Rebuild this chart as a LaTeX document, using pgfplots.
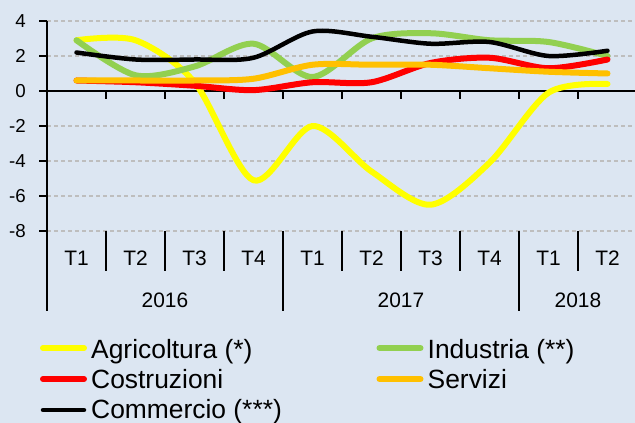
\documentclass[border=0pt]{standalone}
\usepackage{fontspec}
\setmainfont{Liberation Sans}
\usepackage{pgfplots}
\pgfplotsset{compat=1.18}

\definecolor{bgblue}{RGB}{220,230,242}
\definecolor{agri}{RGB}{255,255,0}
\definecolor{indu}{RGB}{146,208,80}
\definecolor{costr}{RGB}{255,0,0}
\definecolor{serv}{RGB}{255,192,0}
\definecolor{gridgray}{RGB}{190,190,190}

\newcommand{\tickfont}{\fontsize{21}{24}\selectfont}
\newcommand{\yfont}{\fontsize{18.8}{22}\selectfont}
\newcommand{\legfont}{\fontsize{26.5}{30}\selectfont}

\begin{document}
\begin{tikzpicture}
\fill[bgblue] (0bp,0bp) rectangle (635bp,423bp);
\useasboundingbox (0bp,0bp) rectangle (635bp,423bp);

\begin{axis}[
  at={(47bp,192bp)}, anchor=south west,
  scale only axis, width=590bp, height=210bp,
  xmin=0, xmax=10, ymin=-8, ymax=4,
  clip=false,
  axis x line=none,
  axis y line*=left,
  y axis line style={line width=1.3bp, -},
  ytick={-8,-6,-4,-2,0,2,4},
  yticklabels={-8,-6,-4,-2,0,2,4},
  yticklabel style={font=\yfont, anchor=east, inner sep=0pt, xshift=-13bp},
  tick align=outside,
  major tick length=8bp,
  ytick style={line width=1.3bp, black},
  ymajorgrids,
  grid style={gridgray, line width=1.2bp, dash pattern=on 4bp off 3bp},
  every axis plot/.append style={smooth, tension=0.5, line cap=round, line join=round, line width=6bp},
]
% zero line and its ticks
\draw[line width=1.3bp] (axis cs:0,0) -- (axis cs:10,0);
\pgfplotsinvokeforeach{1,...,9}{\draw[line width=1.3bp] (axis cs:#1,0) -- ++(0bp,-8bp);}

% Agricoltura (*)
\addplot[agri] coordinates {
  (0.5,2.9) (1.5,2.9) (2.5,0.5) (3.5,-5.1) (4.5,-2.0)
  (5.5,-4.6) (6.5,-6.5) (7.5,-4.1) (8.5,-0.1) (9.5,0.4)
};
% Industria (**)
\addplot[indu] coordinates {
  (0.5,2.9) (1.5,0.9) (2.5,1.4) (3.5,2.7) (4.5,0.8)
  (5.5,3.0) (6.5,3.3) (7.5,2.9) (8.5,2.8) (9.5,2.0)
};
% Costruzioni
\addplot[costr] coordinates {
  (0.5,0.6) (1.5,0.5) (2.5,0.3) (3.5,0.05) (4.5,0.5)
  (5.5,0.5) (6.5,1.6) (7.5,1.9) (8.5,1.3) (9.5,1.8)
};
% Servizi
\addplot[serv] coordinates {
  (0.5,0.6) (1.5,0.6) (2.5,0.6) (3.5,0.7) (4.5,1.5)
  (5.5,1.5) (6.5,1.5) (7.5,1.3) (8.5,1.1) (9.5,1.0)
};
% Commercio (***)
\addplot[black, line width=4.5bp] coordinates {
  (0.5,2.2) (1.5,1.8) (2.5,1.8) (3.5,1.9) (4.5,3.4)
  (5.5,3.1) (6.5,2.7) (7.5,2.8) (8.5,2.0) (9.5,2.3)
};
\end{axis}

\begin{scope}[x=1bp, y=1bp]
% category axis below the plot
\foreach \i in {1,2,3,5,6,7,9}
  \draw[line width=1.3bp] (47+59*\i,192) -- (47+59*\i,152);
\foreach \i in {0,4,8}
  \draw[line width=1.3bp] (47+59*\i,192) -- (47+59*\i,112);
\foreach \i/\t in {0/T1,1/T2,2/T3,3/T4,4/T1,5/T2,6/T3,7/T4,8/T1,9/T2}
  \node[font=\tickfont, inner sep=0pt] at (47+59*\i+29.5,165) {\t};
\node[font=\tickfont, inner sep=0pt] at (165,123) {2016};
\node[font=\tickfont, inner sep=0pt] at (401,123) {2017};
\node[font=\tickfont, inner sep=0pt] at (578,123) {2018};

% legend
\foreach \x/\y/\b/\c/\w/\lab in {
  40/75/65/agri/6/Agricoltura (*),
  376.5/75/65/indu/6/Industria (**),
  40/44/35/costr/6/Costruzioni,
  376.5/44/35/serv/6/Servizi,
  40/13/5/black/4.5/Commercio (***)} {
  \draw[\c, line width=\w bp, line cap=round] (\x+3,\y) -- (\x+44,\y);
  \node[font=\legfont, anchor=base west, inner sep=0pt] at (\x+51,\b) {\lab};
}
\end{scope}
\end{tikzpicture}
\end{document}
